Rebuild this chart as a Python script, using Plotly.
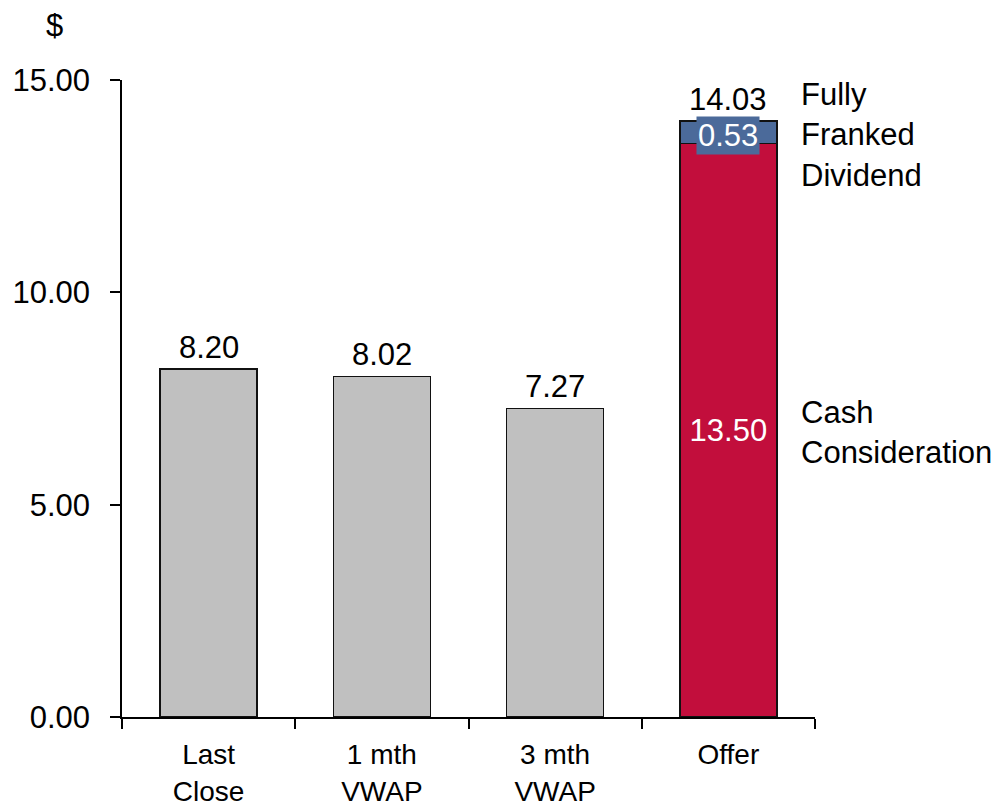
import plotly.graph_objects as go

categories = ["Last<br>Close", "1 mth<br>VWAP", "3 mth<br>VWAP", "Offer"]
market_values = [8.20, 8.02, 7.27, None]
cash_values = [None, None, None, 13.50]
dividend_values = [None, None, None, 0.53]
y_ticks = [0, 5, 10, 15]
dividend_label = "Fully<br>Franked<br>Dividend"
cash_label = "Cash<br>Consideration"

FONT = "Liberation Sans, Arial, sans-serif"
FS = 31
GRAY = "#c0c0c0"
RED = "#c20e3c"
BLUE = "#4b6a9a"
OUTLINE = dict(color="#111111", width=1.5)

fig = go.Figure()
fig.add_trace(go.Bar(x=categories, y=market_values, marker=dict(color=GRAY, line=OUTLINE),
                     width=0.56, hoverinfo="skip"))
fig.add_trace(go.Bar(x=categories, y=cash_values, marker=dict(color=RED, line=OUTLINE),
                     width=0.56, text=[None if v is None else f"{v:.2f}" for v in cash_values],
                     textposition="inside", insidetextanchor="middle",
                     textfont=dict(color="white", size=FS, family=FONT), hoverinfo="skip"))
fig.add_trace(go.Bar(x=categories, y=dividend_values, marker=dict(color=BLUE, line=OUTLINE),
                     width=0.56, hoverinfo="skip"))

annotations = []
# totals above bars
for i, c in enumerate(categories):
    total = sum(v for v in (market_values[i], cash_values[i], dividend_values[i]) if v is not None)
    annotations.append(dict(x=c, y=total, xref="x", yref="y", text=f"{total:.2f}",
                            showarrow=False, yanchor="bottom", yshift=2,
                            font=dict(size=FS, color="black", family=FONT)))
# dividend label inside small segment
for i, c in enumerate(categories):
    if dividend_values[i] is not None:
        mid = cash_values[i] + dividend_values[i] / 2
        annotations.append(dict(x=c, y=mid, xref="x", yref="y", text=f"{dividend_values[i]:.2f}",
                                showarrow=False, bgcolor=BLUE, borderpad=1, yshift=-3,
                                font=dict(size=FS, color="white", family=FONT)))
        annotations.append(dict(x=0.977, y=mid, xref="paper", yref="y", text=dividend_label,
                                showarrow=False, xanchor="left", yanchor="middle", align="left",
                                yshift=-3, font=dict(size=FS, color="black", family=FONT)))
        annotations.append(dict(x=0.977, y=cash_values[i] / 2, xref="paper", yref="y", text=cash_label,
                                showarrow=False, xanchor="left", yanchor="middle", align="left",
                                yshift=-2, font=dict(size=FS, color="black", family=FONT)))
annotations.append(dict(x=-0.098, y=1.086, xref="paper", yref="paper", text="$",
                        showarrow=False, xanchor="center", yanchor="middle",
                        font=dict(size=FS, color="black", family=FONT)))

fig.update_layout(
    barmode="stack",
    width=1006, height=810,
    margin=dict(l=122, r=191, t=80, b=93),
    paper_bgcolor="white", plot_bgcolor="white",
    showlegend=False,
    font=dict(family=FONT, size=FS, color="black"),
    annotations=annotations,
    xaxis=dict(showline=True, linecolor="black", linewidth=1.5, ticks="outside",
               tickson="boundaries", ticklen=10, tickwidth=1.5, tickcolor="black",
               showgrid=False, tickfont=dict(size=28), ticklabelstandoff=12,
               automargin=False, fixedrange=True),
    yaxis=dict(range=[0, 15], tickvals=y_ticks, tickformat=".2f", showline=True,
               linecolor="black", linewidth=1.5, ticks="outside", ticklen=10,
               tickwidth=1.5, tickcolor="black", showgrid=False, zeroline=False,
               tickfont=dict(size=FS), ticklabelstandoff=14, automargin=False,
               fixedrange=True),
)

fig.write_html("out.html")
